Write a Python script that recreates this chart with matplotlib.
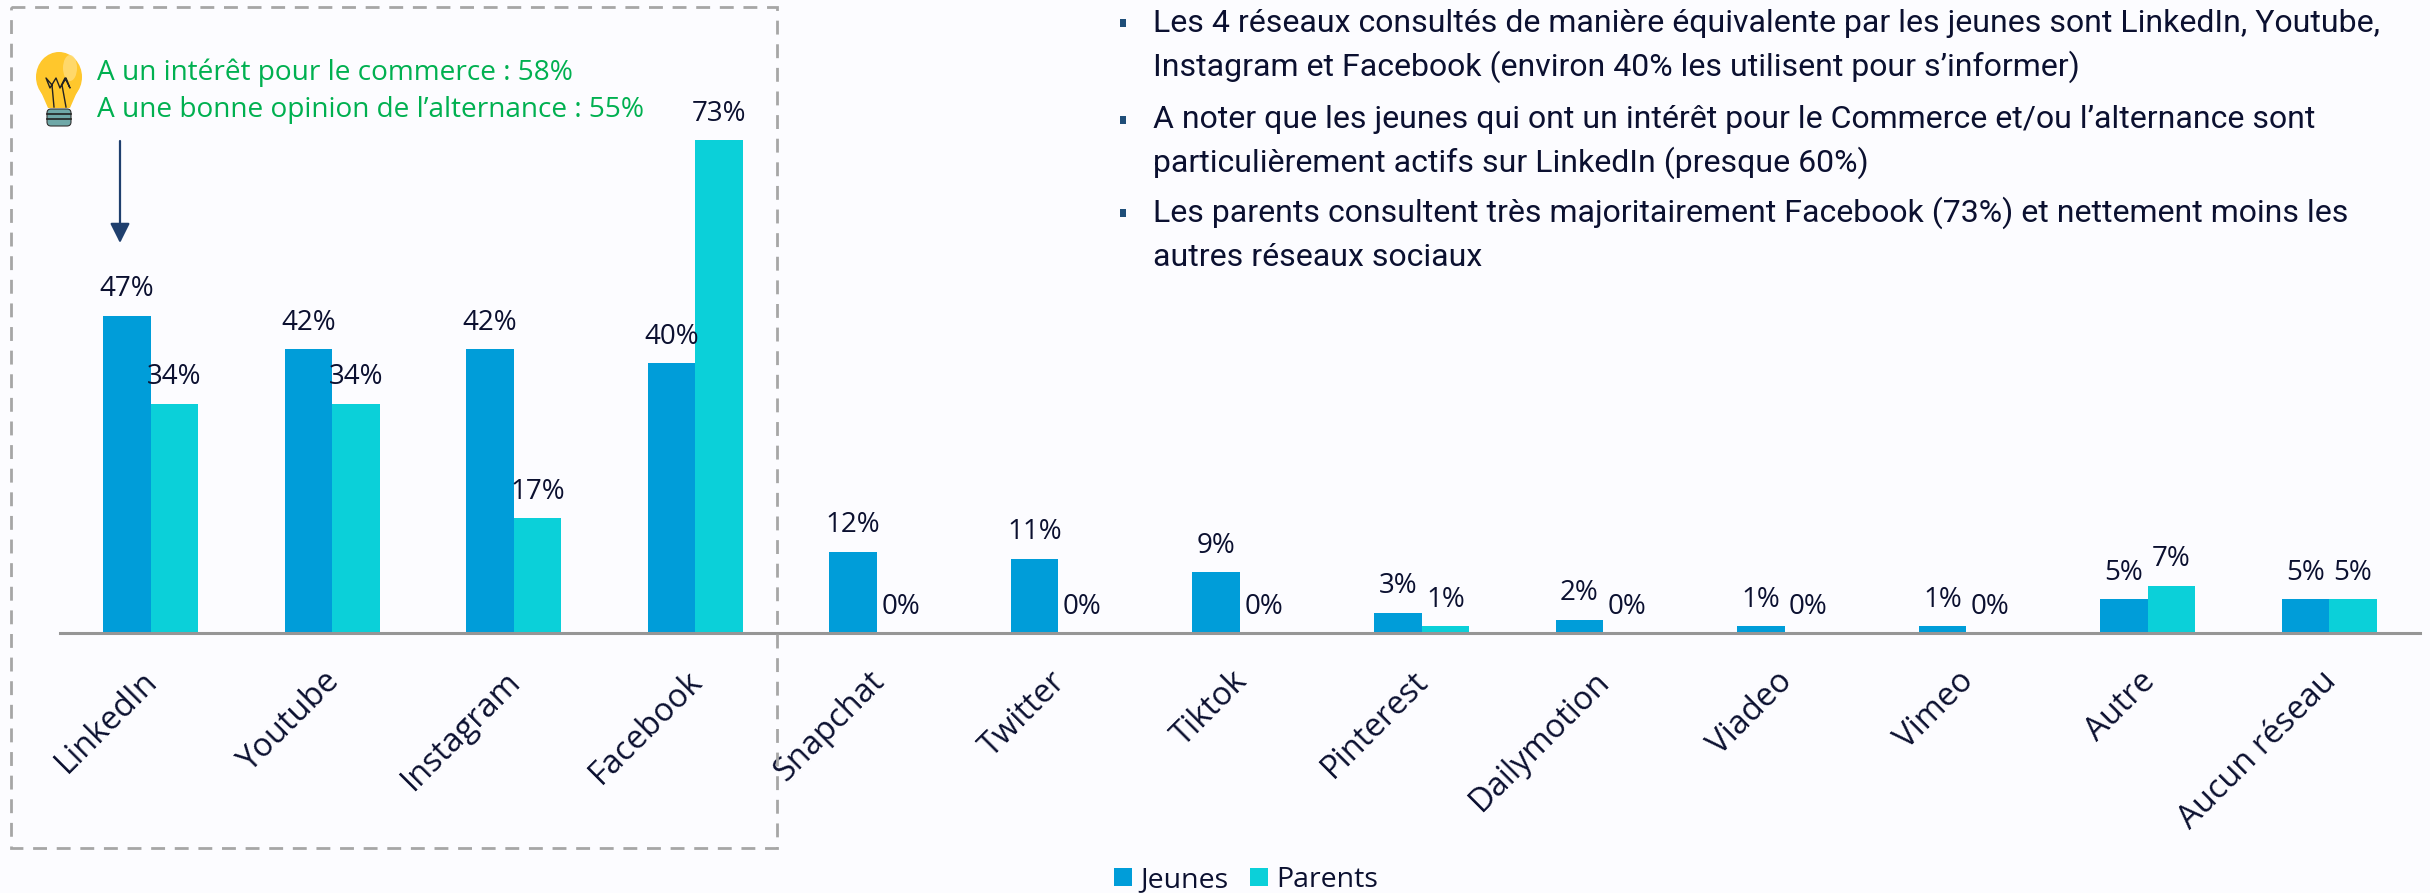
import matplotlib
matplotlib.use("Agg")
import matplotlib.pyplot as plt
from matplotlib.patches import Ellipse, Rectangle, FancyBboxPatch, Polygon
from matplotlib.transforms import ScaledTranslation

categories = ["LinkedIn", "Youtube", "Instagram", "Facebook", "Snapchat", "Twitter", "Tiktok",
              "Pinterest", "Dailymotion", "Viadeo", "Vimeo", "Autre", "Aucun réseau"]
jeunes = [47, 42, 42, 40, 12, 11, 9, 3, 2, 1, 1, 5, 5]
parents = [34, 34, 17, 73, 0, 0, 0, 1, 0, 0, 0, 7, 5]
series_names = ["Jeunes", "Parents"]
green_lines = ["A un intérêt pour le commerce : 58%", "A une bonne opinion de l’alternance : 55%"]
bullets = [
    ["Les 4 réseaux consultés de manière équivalente par les jeunes sont LinkedIn, Youtube,",
     "Instagram et Facebook (environ 40% les utilisent pour s’informer)"],
    ["A noter que les jeunes qui ont un intérêt pour le Commerce et/ou l’alternance sont",
     "particulièrement actifs sur LinkedIn (presque 60%)"],
    ["Les parents consultent très majoritairement Facebook (73%) et nettement moins les",
     "autres réseaux sociaux"],
]

W, H = 2430, 893
BG = "#FCFCFF"
DARK = "#0B1030"
C_J, C_P = "#009DD9", "#0BD0D9"
plt.rcParams["font.family"] = ["Open Sans", "DejaVu Sans"]

fig = plt.figure(figsize=(W / 100, H / 100), dpi=100, facecolor=BG)
base_y, left, right = 633, 60, 2420
ax = fig.add_axes([left / W, 1 - base_y / H, (right - left) / W, base_y / H])
ax.set_facecolor("none")
xs = list(range(len(categories)))
bw = 0.262
b1 = ax.bar([x - bw / 2 for x in xs], jeunes, bw, color=C_J, label=series_names[0])
b2 = ax.bar([x + bw / 2 for x in xs], parents, bw, color=C_P, label=series_names[1])
ax.set_xlim(-0.5, len(categories) - 0.5)
ax.set_ylim(0, base_y / 6.75)
for s in ["top", "left", "right"]:
    ax.spines[s].set_visible(False)
ax.spines["bottom"].set_color("#969696")
ax.spines["bottom"].set_linewidth(2.2)
ax.yaxis.set_visible(False)
ax.set_xticks(xs)
ax.set_xticklabels(categories, rotation=45, ha="right", va="top", fontsize=23.5, color=DARK)
ax.tick_params(axis="x", length=0, pad=23)
off = ScaledTranslation(14 / 100, 0, fig.dpi_scale_trans)
for t in ax.get_xticklabels():
    t.set_transform(t.get_transform() + off)
for b in (b1, b2):
    ax.bar_label(b, fmt="{:.0f}%", padding=9, fontsize=20, color=DARK)

# overlay in pixel coordinates
ov = fig.add_axes([0, 0, 1, 1])
ov.set_xlim(0, W)
ov.set_ylim(H, 0)
ov.axis("off")
ov.patch.set_alpha(0)

ov.add_patch(Rectangle((11, 7), 766, 841, fill=False, ec="#A6A6A6", lw=2, ls=(0, (5, 3.5))))

for line, y in zip(green_lines, [73, 110]):
    ov.text(97, y, line, color="#00B050", fontsize=20.2, va="center", ha="left")

# light bulb
ov.add_patch(Ellipse((59, 77), 46, 50, fc="#FFC72C", ec="none"))
ov.add_patch(Polygon([(38, 85), (80, 85), (70, 108), (48, 108)], fc="#FFC72C", ec="none"))
ov.add_patch(Ellipse((70, 68), 14, 26, fc="#FFDD7A", ec="none", alpha=0.8))
ov.plot([54, 52, 46, 50, 56, 60, 65, 70, 66, 62, 66], [107, 85, 78, 88, 78, 88, 78, 88, 78, 85, 107],
        color="#222222", lw=1)
ov.add_patch(FancyBboxPatch((47, 109), 24, 17, boxstyle="round,pad=0,rounding_size=4",
                            fc="#6FA8A8", ec="#333333", lw=0.8))
ov.plot([47, 71], [114, 114], color="#222222", lw=1.2)
ov.plot([47, 71], [119, 119], color="#222222", lw=1.2)

# arrow
ov.annotate("", xy=(120, 243), xytext=(120, 141),
            arrowprops=dict(arrowstyle="-|>,head_width=0.3,head_length=0.6", color="#1F3F6E", lw=1.6,
                            shrinkA=0, shrinkB=0, mutation_scale=20))

# bullets
ys = [[23, 67], [120, 163], [213, 258]]
for para, yy in zip(bullets, ys):
    ov.add_patch(Rectangle((1120, yy[0] - 4), 6, 8, fc="#1F4E79", ec="none"))
    for line, y in zip(para, yy):
        ov.text(1153, y, line, color=DARK, fontsize=23, family="Roboto", va="center", ha="left")

fig.legend(handles=[b1, b2], labels=series_names, loc="center", bbox_to_anchor=(1246 / W, 1 - 880 / H),
           ncol=2, frameon=False, fontsize=20.5, labelcolor=DARK, handlelength=0.63, handleheight=0.63,
           handletextpad=0.3, columnspacing=0.75, borderpad=0)

fig.savefig("out.png", dpi=100, facecolor=BG)
